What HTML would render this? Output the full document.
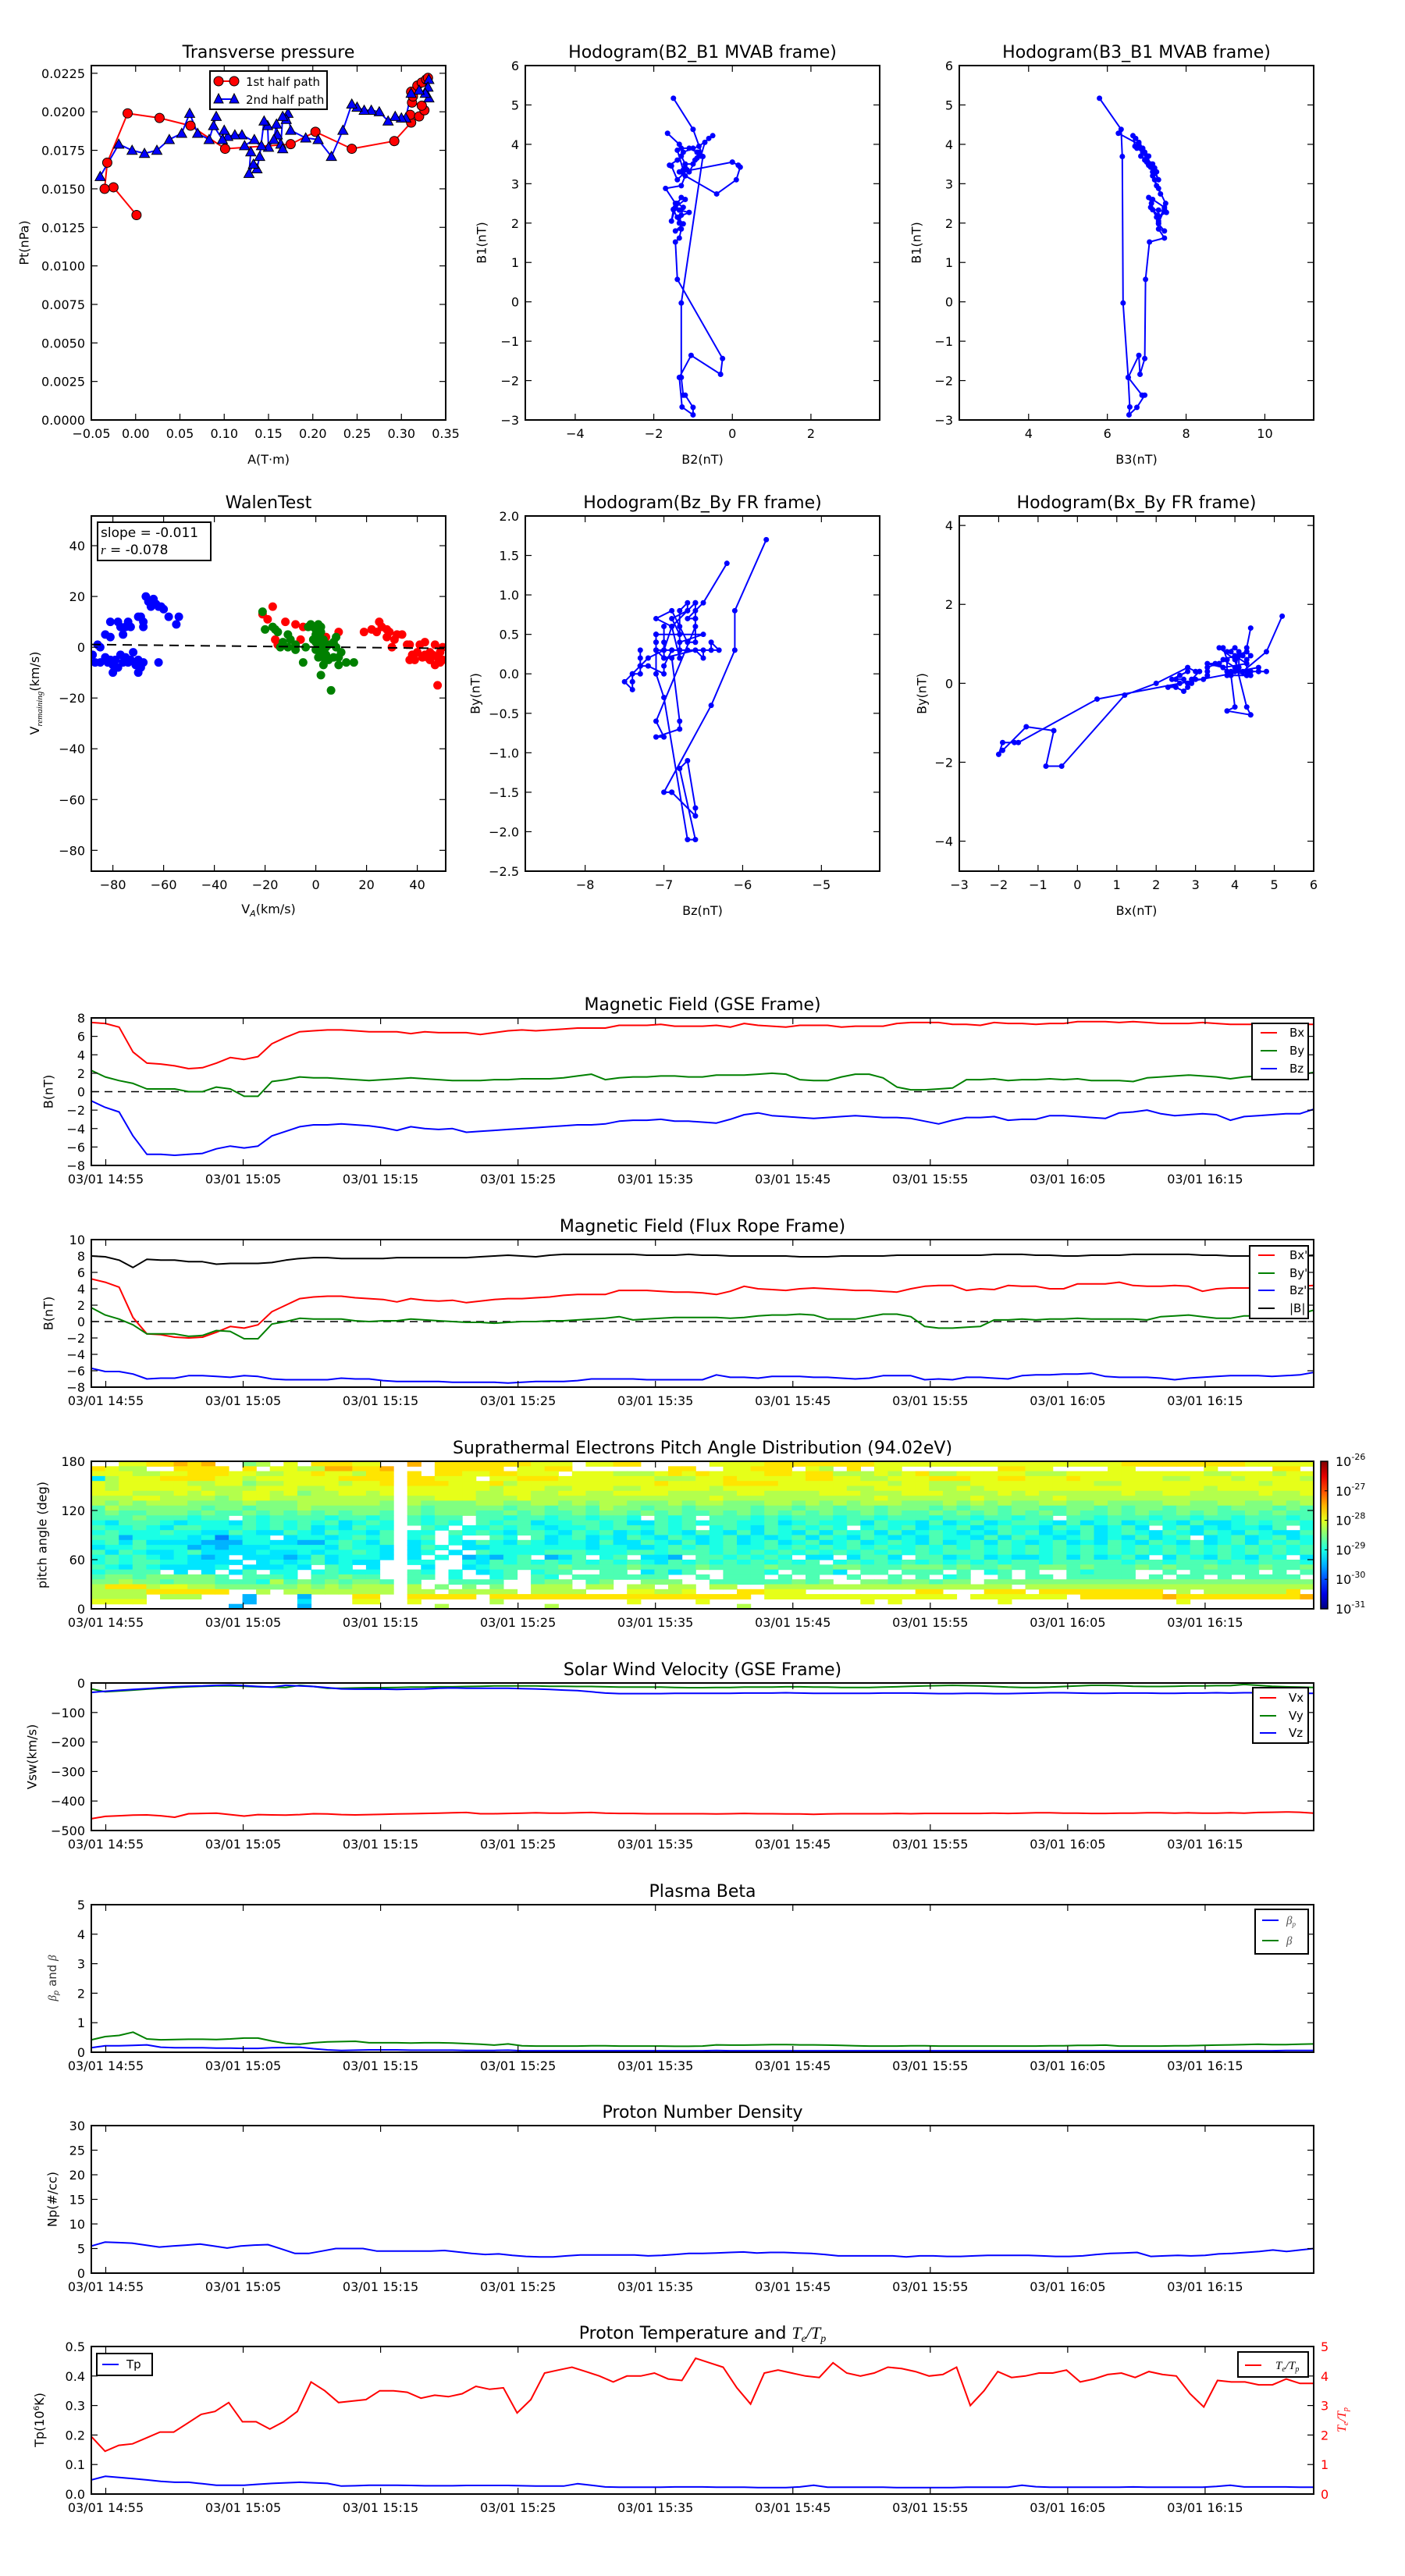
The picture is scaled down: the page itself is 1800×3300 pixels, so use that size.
<!DOCTYPE html>
<html><head><meta charset="utf-8">
<style>
html,body{margin:0;padding:0;background:#fff;}
svg{display:block;font-family:"DejaVu Sans","Liberation Sans",sans-serif;}
</style></head>
<body>
<svg id="fig" xmlns="http://www.w3.org/2000/svg" width="1800" height="3300" viewBox="0 0 1800 3300"></svg>
<script>
// ---------------- DATA ----------------
const tpRedA=[0.001,-0.025,-0.035,-0.032,-0.009,0.027,0.062,0.101,0.175,0.203,0.244,0.292,0.311,0.310,0.320,0.326,0.323,0.312,0.313,0.311,0.318,0.323,0.328,0.330];
const tpRedP=[0.0133,0.0151,0.0150,0.0167,0.0199,0.0196,0.0191,0.0176,0.0179,0.0187,0.0176,0.0181,0.0193,0.0198,0.0197,0.0201,0.0204,0.0206,0.0210,0.0213,0.0217,0.0219,0.0221,0.0222];
const tpBlueA=[0.331,0.330,0.331,0.327,0.320,0.311,0.305,0.300,0.293,0.285,0.275,0.266,0.258,0.250,0.244,0.234,0.221,0.206,0.192,0.175,0.172,0.170,0.166,0.164,0.166,0.160,0.159,0.156,0.150,0.149,0.145,0.140,0.137,0.133,0.128,0.130,0.123,0.134,0.142,0.120,0.112,0.104,0.100,0.098,0.088,0.091,0.083,0.070,0.061,0.052,0.038,0.024,0.010,-0.004,-0.019,-0.040];
const tpBlueP=[0.0221,0.0216,0.0209,0.0212,0.0214,0.0212,0.0196,0.0196,0.0197,0.0194,0.0200,0.0201,0.0201,0.0203,0.0205,0.0188,0.0171,0.0182,0.0183,0.0188,0.0199,0.0195,0.0197,0.0179,0.0176,0.0185,0.0192,0.0182,0.0177,0.0191,0.0194,0.0171,0.0163,0.0166,0.0160,0.0174,0.0178,0.0182,0.0178,0.0185,0.0185,0.0184,0.0188,0.0182,0.0191,0.0197,0.0182,0.0186,0.0199,0.0186,0.0182,0.0175,0.0173,0.0175,0.0179,0.0158];
const hB2=[-1.5,-1.0,-0.75,-1.3,-1.3,-1.25,-1.2,-1.0,-1.0,-1.28,-1.35,-1.05,-0.3,-0.25,-1.4,-1.45,-1.35,-1.3,-1.45,-1.25,-1.4,-1.1,-1.35,-1.5,-1.55,-1.45,-1.2,-1.3,-1.4,-1.25,-1.3,-1.35,-1.5,-1.45,-1.7,-1.3,-1.2,-0.4,0.1,0.2,0.15,0.0,-1.3,-1.15,-1.4,-1.55,-1.6,-1.4,-1.3,-1.2,-1.0,-0.95,-0.85,-0.9,-1.1,-1.2,-1.35,-1.25,-1.4,-1.3,-1.1,-0.9,-0.8,-0.7,-0.6,-0.5,-0.85,-1.0,-1.25,-1.35,-1.65];
const hB1=[5.17,4.38,3.69,-0.03,-1.92,-2.37,-2.37,-2.68,-2.87,-2.67,-1.92,-1.36,-1.84,-1.44,0.57,1.52,1.62,1.85,1.8,1.98,2.15,2.27,2.33,2.34,2.05,2.4,2.6,2.65,2.5,2.4,2.2,2.0,2.35,2.5,2.88,2.95,3.2,2.74,3.1,3.42,3.47,3.55,3.3,3.35,3.1,3.45,3.47,3.6,3.7,3.5,3.5,3.6,3.8,3.65,3.3,3.4,3.3,3.35,3.85,3.9,3.9,3.8,3.7,4.05,4.15,4.22,3.95,3.9,3.8,4.0,4.28];
const hB3=[5.8,6.35,6.38,6.4,6.53,6.88,6.95,6.75,6.55,6.57,6.53,6.8,6.83,6.95,6.97,7.07,7.45,7.3,7.45,7.3,7.25,7.5,7.3,7.15,7.3,7.45,7.15,7.05,7.12,7.1,7.28,7.3,7.45,7.48,7.3,7.25,7.15,7.35,7.2,7.1,7.05,7.0,7.15,7.2,7.3,7.1,7.05,6.95,6.85,7.15,7.1,7.0,6.9,7.0,7.25,7.2,7.2,7.2,6.9,6.85,6.9,6.95,7.05,6.8,6.72,6.65,6.7,6.75,6.9,6.8,6.28];
const wBlueX=[-86,-85,-88,-87,-85,-83,-82,-81,-80,-80,-79,-78,-77,-76,-75,-74,-73,-72,-71,-70,-70,-69,-68,-62,-83,-81,-81,-78,-77,-76,-75,-74,-73,-70,-69,-68,-68,-67,-66,-65,-64,-63,-62,-61,-60,-58,-55,-54];
const wBlueY=[1,0,-3,-6,-6,-4,-6,-5,-7,-10,-5,-8,-3,-6,-4,-6,-5,-2,-7,-5,-10,-8,-6,-6,5,4,10,10,8,5,8,10,8,12,12,10,8,20,18,16,19,17,16,16,15,12,9,12];
const wRedX=[-21,-19,-17,-16,-15,-12,-8,-6,-5,1,4,9,19,22,24,25,26,28,28,29,30,31,32,34,36,37,37,38,39,40,41,42,43,43,44,45,45,46,47,47,48,48,49,50,50,49];
const wRedY=[13,11,16,3,1,10,9,3,8,6,4,6,6,7,6,10,8,4,7,6,0,3,5,5,1,1,-5,-3,-5,-2,1,-4,-3,2,-4,-2,-5,-3,-7,1,-4,-15,-2,0,-5,-6];
const wGreenX=[-21,-20,-17,-16,-15,-14,-13,-11,-11,-10,-8,-8,-5,-4,-3,-2,-1,0,0,0,1,1,1,1,2,2,2,2,3,3,3,4,4,5,5,6,7,7,8,8,9,9,10,12,15,0,-1,3];
const wGreenY=[14,7,8,7,6,0,2,5,0,3,1,-1,-6,0,8,9,8,7,5,2,9,4,0,-4,8,6,-2,-11,3,-4,-7,0,-3,1,-5,-17,2,-4,4,0,-4,-7,-2,-6,-6,-1,3,1];
const walenSlope=-0.011, walenIntercept=0.1;
const timeTickLabels=['03/01 14:55','03/01 15:05','03/01 15:15','03/01 15:25','03/01 15:35','03/01 15:45','03/01 15:55','03/01 16:05','03/01 16:15'];
const timeTickMinutes=[0,10,20,30,40,50,60,70,80];
const gseBx=[7.5,7.4,7.0,4.3,3.1,3.0,2.8,2.5,2.6,3.1,3.7,3.5,3.8,5.2,5.9,6.5,6.6,6.7,6.7,6.6,6.5,6.5,6.5,6.3,6.5,6.4,6.4,6.4,6.2,6.4,6.6,6.7,6.6,6.7,6.8,6.9,6.9,6.9,7.2,7.2,7.2,7.3,7.1,7.1,7.1,7.2,7.0,7.4,7.2,7.1,7.0,7.2,7.2,7.2,7.0,7.1,7.1,7.1,7.4,7.5,7.5,7.5,7.3,7.3,7.2,7.5,7.4,7.4,7.3,7.4,7.4,7.6,7.6,7.6,7.5,7.6,7.5,7.4,7.4,7.4,7.5,7.4,7.3,7.3,7.3,7.3,7.4,7.3,7.3];
const gseBy=[2.3,1.6,1.2,0.9,0.3,0.3,0.3,0.0,0.0,0.5,0.3,-0.5,-0.5,1.1,1.3,1.6,1.5,1.5,1.4,1.3,1.2,1.3,1.4,1.5,1.4,1.3,1.2,1.2,1.2,1.3,1.3,1.4,1.4,1.4,1.5,1.7,1.9,1.3,1.5,1.6,1.6,1.7,1.7,1.6,1.6,1.8,1.8,1.8,1.9,2.0,1.9,1.3,1.2,1.2,1.6,1.9,1.9,1.5,0.5,0.2,0.2,0.3,0.4,1.3,1.3,1.4,1.2,1.3,1.3,1.4,1.3,1.4,1.2,1.2,1.2,1.1,1.5,1.6,1.7,1.8,1.7,1.6,1.4,1.6,1.7,1.7,1.8,1.8,2.1];
const gseBz=[-1.0,-1.7,-2.2,-4.8,-6.8,-6.8,-6.9,-6.8,-6.7,-6.2,-5.9,-6.1,-5.9,-4.8,-4.3,-3.8,-3.6,-3.6,-3.5,-3.6,-3.7,-3.9,-4.2,-3.8,-4.0,-4.1,-4.0,-4.4,-4.3,-4.2,-4.1,-4.0,-3.9,-3.8,-3.7,-3.6,-3.6,-3.5,-3.2,-3.1,-3.1,-3.0,-3.2,-3.2,-3.3,-3.4,-3.0,-2.5,-2.3,-2.6,-2.7,-2.8,-2.9,-2.8,-2.7,-2.6,-2.7,-2.8,-2.8,-2.9,-3.2,-3.5,-3.1,-2.8,-2.8,-2.7,-3.1,-3.0,-3.0,-2.6,-2.6,-2.7,-2.8,-2.9,-2.3,-2.2,-2.0,-2.4,-2.6,-2.5,-2.4,-2.5,-3.1,-2.7,-2.6,-2.5,-2.4,-2.4,-1.9];
const frBx=[5.2,4.8,4.2,0.5,-1.5,-1.6,-1.9,-2.0,-1.9,-1.3,-0.6,-0.8,-0.4,1.2,2.0,2.8,3.0,3.1,3.1,2.9,2.8,2.7,2.4,2.8,2.6,2.5,2.6,2.3,2.5,2.7,2.8,2.8,2.9,3.0,3.2,3.3,3.3,3.3,3.8,3.8,3.8,3.7,3.6,3.6,3.5,3.3,3.7,4.3,4.0,3.9,3.8,4.0,4.1,4.0,3.9,3.8,3.8,3.7,3.6,4.0,4.3,4.4,4.4,3.8,4.0,3.9,4.4,4.3,4.3,4.0,4.0,4.6,4.6,4.6,4.8,4.4,4.3,4.3,4.4,4.3,3.7,4.0,4.1,4.1,4.1,4.2,4.3,4.3,4.4];
const frBy=[1.7,0.8,0.3,-0.4,-1.5,-1.5,-1.5,-1.8,-1.7,-1.1,-1.2,-2.1,-2.1,-0.3,0.0,0.4,0.3,0.3,0.3,0.1,0.0,0.1,0.1,0.3,0.2,0.1,0.0,-0.1,-0.1,-0.2,-0.1,0.0,0.0,0.1,0.1,0.2,0.3,0.4,0.6,0.2,0.3,0.4,0.5,0.5,0.5,0.5,0.4,0.5,0.7,0.8,0.8,0.9,0.8,0.3,0.3,0.3,0.6,0.9,0.9,0.6,-0.6,-0.8,-0.8,-0.7,-0.6,0.2,0.2,0.3,0.2,0.3,0.3,0.4,0.3,0.3,0.3,0.3,0.2,0.6,0.7,0.8,0.6,0.4,0.4,0.7,0.7,0.7,0.8,0.9,1.4];
const frBz=[-5.7,-6.1,-6.1,-6.4,-7.0,-6.9,-6.9,-6.6,-6.6,-6.7,-6.8,-6.6,-6.7,-7.0,-7.1,-7.1,-7.1,-7.1,-6.9,-7.0,-7.0,-7.2,-7.3,-7.3,-7.3,-7.3,-7.4,-7.4,-7.4,-7.4,-7.5,-7.4,-7.3,-7.3,-7.3,-7.2,-7.0,-7.0,-7.0,-7.0,-7.1,-7.1,-7.1,-7.1,-7.1,-6.5,-6.8,-6.8,-6.9,-6.7,-6.7,-6.7,-6.8,-6.8,-6.9,-7.0,-6.9,-6.6,-6.6,-6.6,-7.1,-7.0,-7.1,-6.8,-6.8,-6.9,-7.0,-6.6,-6.5,-6.5,-6.4,-6.4,-6.3,-6.7,-6.8,-6.8,-6.8,-6.9,-7.1,-6.9,-6.8,-6.7,-6.6,-6.6,-6.6,-6.7,-6.6,-6.5,-6.2];
const frBt=[8.0,7.9,7.5,6.6,7.6,7.5,7.5,7.3,7.3,7.0,7.1,7.1,7.1,7.2,7.5,7.7,7.8,7.8,7.7,7.7,7.7,7.7,7.8,7.8,7.8,7.8,7.8,7.8,7.9,8.0,8.1,8.0,7.9,8.1,8.2,8.2,8.2,8.2,8.2,8.2,8.1,8.1,8.1,8.2,8.1,8.1,8.0,8.0,8.0,8.0,8.0,7.9,7.9,7.9,8.0,8.0,8.0,8.0,8.1,8.1,8.1,8.1,8.1,8.1,8.1,8.2,8.2,8.2,8.1,8.1,8.0,8.0,8.1,8.1,8.1,8.2,8.2,8.2,8.2,8.2,8.1,8.1,8.0,8.0,8.0,8.0,8.0,8.0,8.1];
const vx=[-460,-452,-450,-448,-447,-450,-455,-443,-442,-441,-446,-451,-446,-447,-448,-446,-443,-444,-446,-447,-446,-445,-444,-443,-442,-441,-440,-439,-443,-443,-442,-441,-440,-441,-441,-440,-439,-441,-442,-442,-443,-443,-443,-443,-443,-444,-443,-442,-443,-443,-444,-444,-445,-444,-443,-443,-443,-443,-442,-443,-442,-442,-442,-442,-442,-441,-442,-441,-440,-440,-441,-441,-442,-442,-441,-441,-440,-440,-441,-440,-441,-441,-440,-441,-439,-438,-437,-438,-441];
const vy=[-20,-30,-27,-24,-21,-18,-15,-13,-11,-10,-10,-11,-13,-14,-15,-8,-12,-18,-18,-17,-16,-16,-15,-14,-14,-13,-13,-12,-11,-10,-10,-10,-10,-11,-11,-12,-12,-13,-14,-14,-14,-14,-15,-16,-16,-15,-15,-14,-14,-14,-13,-13,-14,-14,-15,-15,-15,-14,-13,-11,-10,-9,-8,-9,-10,-12,-14,-15,-15,-14,-12,-10,-8,-8,-9,-11,-12,-12,-11,-10,-10,-9,-9,-5,-8,-11,-13,-14,-15];
const vz=[-32,-28,-25,-22,-19,-16,-13,-11,-10,-8,-7,-9,-12,-14,-8,-10,-12,-16,-20,-21,-21,-21,-22,-21,-20,-18,-17,-18,-18,-18,-18,-19,-20,-22,-24,-26,-30,-34,-36,-36,-36,-36,-35,-35,-35,-35,-35,-34,-34,-34,-33,-34,-35,-35,-35,-35,-35,-34,-34,-34,-35,-36,-36,-35,-35,-36,-36,-35,-34,-33,-33,-34,-35,-35,-34,-34,-34,-35,-35,-34,-34,-33,-34,-33,-33,-34,-35,-35,-35];
const betaP=[0.15,0.22,0.22,0.23,0.25,0.17,0.15,0.15,0.15,0.14,0.14,0.13,0.13,0.15,0.16,0.17,0.12,0.08,0.06,0.07,0.08,0.08,0.08,0.07,0.07,0.07,0.07,0.06,0.06,0.06,0.07,0.05,0.05,0.05,0.05,0.05,0.05,0.05,0.05,0.05,0.05,0.05,0.05,0.05,0.05,0.06,0.05,0.05,0.05,0.05,0.05,0.05,0.05,0.05,0.05,0.05,0.05,0.05,0.05,0.05,0.05,0.05,0.05,0.05,0.05,0.05,0.05,0.05,0.05,0.05,0.05,0.05,0.05,0.05,0.05,0.05,0.05,0.05,0.05,0.05,0.05,0.05,0.05,0.05,0.05,0.05,0.06,0.06,0.06];
const betaT=[0.42,0.53,0.57,0.68,0.45,0.42,0.43,0.44,0.44,0.43,0.45,0.48,0.48,0.38,0.30,0.27,0.32,0.35,0.36,0.37,0.32,0.32,0.32,0.31,0.32,0.32,0.31,0.29,0.27,0.24,0.28,0.22,0.21,0.21,0.21,0.21,0.22,0.22,0.21,0.21,0.21,0.21,0.20,0.20,0.21,0.25,0.24,0.24,0.25,0.26,0.26,0.25,0.25,0.24,0.23,0.22,0.21,0.21,0.21,0.22,0.22,0.21,0.21,0.21,0.21,0.21,0.21,0.21,0.21,0.22,0.22,0.23,0.23,0.24,0.21,0.21,0.21,0.21,0.22,0.22,0.23,0.24,0.25,0.26,0.27,0.26,0.26,0.27,0.28];
const npDens=[5.5,6.3,6.2,6.1,5.7,5.3,5.5,5.7,5.9,5.5,5.1,5.5,5.7,5.8,4.9,4.0,4.0,4.5,5.0,5.0,5.0,4.5,4.5,4.5,4.5,4.5,4.6,4.3,4.0,3.8,3.9,3.6,3.4,3.3,3.3,3.5,3.7,3.7,3.7,3.7,3.7,3.5,3.6,3.8,4.0,4.0,4.1,4.2,4.3,4.1,4.2,4.2,4.1,4.0,3.8,3.5,3.5,3.5,3.5,3.5,3.3,3.5,3.5,3.4,3.4,3.5,3.6,3.6,3.6,3.6,3.5,3.4,3.4,3.5,3.8,4.0,4.1,4.2,3.4,3.5,3.6,3.5,3.6,3.9,4.0,4.2,4.4,4.7,4.4,4.7,5.0];
const tempP=[0.048,0.060,0.056,0.052,0.048,0.043,0.040,0.040,0.035,0.030,0.030,0.030,0.033,0.036,0.038,0.040,0.038,0.036,0.027,0.028,0.030,0.030,0.030,0.029,0.028,0.028,0.028,0.029,0.029,0.029,0.029,0.028,0.027,0.027,0.027,0.035,0.030,0.024,0.023,0.023,0.023,0.023,0.024,0.024,0.024,0.023,0.023,0.023,0.022,0.022,0.022,0.024,0.030,0.023,0.023,0.023,0.023,0.023,0.022,0.022,0.022,0.022,0.022,0.023,0.023,0.023,0.023,0.030,0.025,0.023,0.023,0.023,0.023,0.023,0.023,0.024,0.023,0.023,0.023,0.023,0.023,0.026,0.030,0.024,0.024,0.024,0.024,0.023,0.023];
const teTp=[1.95,1.45,1.65,1.7,1.9,2.1,2.1,2.4,2.7,2.8,3.1,2.45,2.45,2.2,2.45,2.8,3.8,3.5,3.1,3.15,3.2,3.5,3.5,3.45,3.25,3.35,3.3,3.4,3.65,3.55,3.6,2.75,3.2,4.1,4.2,4.3,4.15,4.0,3.8,4.0,4.0,4.1,3.9,3.85,4.6,4.45,4.3,3.6,3.05,4.1,4.2,4.1,4.0,3.95,4.45,4.1,4.0,4.1,4.3,4.25,4.15,4.0,4.05,4.3,3.0,3.5,4.15,3.95,4.0,4.1,4.1,4.2,3.8,3.9,4.05,4.1,3.95,4.15,4.05,4.0,3.4,2.95,3.85,3.8,3.8,3.7,3.7,3.9,3.75,3.75];
const padRows=[
"..8899a9a..67.8.99988. . a.99999998 88.8899... ..88889999 9999888888 8888888888 8899999999 988888",
"9877..9999.9.8877aa99a . ..99999.88 99.......9 9..88999.87 .9.88..... ..9988.... 88.....8.. ..99.88",
"8887788999887788988799 . 9.99889988 8.88877789 8988889989 9777878977 8888877788 8888888877 8887",
"3788899998878888889999 . 99888.8899 9888888877 7889888889 9887788899 9889988898 8888877888 7888",
"8788888778867788887889 . 9998889788 8888888898 8889999888 8888878877 7888888888 7788888888 8878",
"8788888877778887788888 . 8888887888 7788877888 8878888888 8877888877 8788888888 8888888878 8888",
"8887778787788786778878 . 8888877887 7887788887 7777887777 8887778887 7778787777 7787788777 7787",
"7778877776788777777777 . 7788877787 7777777777 7787777777 7777877777 7877777877 7777777777 7777",
"7676777666676667777776 . 7666677667 7676776667 6776667767 6767776667 6767667766 7666677667 7667",
"5766666656656667666666 . 6566666566 5665766566 5666656656 6566566656 5665665566 5656656665 6665",
"5655666565565656565665 . 6566655656 5565665656 5565656565 6556565565 6565656565 5656556565 5656",
"5556555455.54555545545 . 5455.55455 4554554.54 5.55545455 5455455545 5455455.55 4555455455 4555",
"4355543444354545453454 . 5454.54553 4455453354 5455445345 4453544353 4534554353 4534543533 4545",
"5445435544454545343544 . .54.445454 3445455454 5.45435454 54.4545344 5345443545 3453.45343 4435",
"4544454433543354354435 . 44.5454355 4354534354 3543535435 3545353454 3435453435 3454354354 3543",
"5524444341344.34434545 . 45.4..54.5 3453435435 4345343453 5435434354 4353544345 3435345.34 5345",
"4535333322244332245435 . 34.4354354 3443533543 5345345345 3453454353 4535434534 3543543534 5354",
"3445444232333444435443 . 354.334444 4443443345 4545445454 5454544545 4545454545 4545454545 4545",
"5354334533334334344543 . 34.3.54444 5554445545 5545454545 4545454545 5545454545 4545454545 4545",
"4545434323.33323534443 . 3.4.23245. 235.45.332 .5545454.3 3.3553.553 4534334535 3453.35435 4354",
"45455443333.343453433. . 44..435454 5454545435 4545454545 .454545454 5454554555 5545545554 5455",
"5435433334.33343.54.3. . .3..345555 5655556555 5655556555 5665556665 6556556656 5556565565 5565",
"45555.3.3.35.44.45444. . 54.4.345.4 55..55.353 5..5554.55 53.55.555. 5.45.5..54 555..5.555 55.5",
"5665666665.5554.55655. . 55.4..45.5 4.5555555. .5.555.5.5 ..5..5.5.4 5..5.55.55 555.5.55.5 .555",
"6676656665554756565665 . 5..5555..5 66.56..666 ..55555565 6..6656656 6.66666666 6666666666 6666",
"7999788776666667676777 . 7.6.6.6..7 77.77.77.7 7.77..7777 7777777777 7777.77777 7777777777 7777",
"7777999999..7.77777777 . 77.77777.7 777...8877 8...99888. .......99. ..999.9999 99999.7.77 7777",
"7777.777...2...2...99. . 99999.9999 9999999999 99999.8888 8888888888 .8888888.9 99999a9999 9999",
"8888.......2...3...88. . 8.....7... ......8... .8........ ...8.8.... ...8...... ......8... ....",
"..........2....2...... . ..7....... 7......... ....7..... .......... .......... .......... ...."
];
const cbarTickExps=[-26,-27,-28,-29,-30,-31];

// ---------------- HELPERS ----------------
const NS='http://www.w3.org/2000/svg';
const svg=document.getElementById('fig');
function el(tag,attrs,parent,name,inter){
  const e=document.createElementNS(NS,tag);
  for(const k in attrs) e.setAttribute(k,attrs[k]);
  
  
  (parent||svg).appendChild(e);
  return e;
}
function txt(s,x,y,opts,parent,name){
  const t=el('text',Object.assign({x:x,y:y,'font-size':16,fill:'#000'},opts||{}),parent,name);
  t.textContent=s;return t;
}
let clipId=0;
function axes(o){
  const g=el('g',{},svg,o.name);
  const X=v=>o.x0+(v-o.xmin)/(o.xmax-o.xmin)*(o.x1-o.x0);
  const Y=v=>o.y1-(v-o.ymin)/(o.ymax-o.ymin)*(o.y1-o.y0);
  const cid='clip'+(clipId++);
  const cp=el('clipPath',{id:cid},g,'clip-region');
  el('rect',{x:o.x0,y:o.y0,width:o.x1-o.x0,height:o.y1-o.y0},cp,'clip-rect');
  const plot=el('g',{'clip-path':'url(#'+cid+')'},g,'plot-area');
  const ticks=el('g',{stroke:'#000','stroke-width':1.2},g,'ticks');
  (o.xt||[]).forEach((v,i)=>{const x=X(v);
    el('line',{x1:x,x2:x,y1:o.y1,y2:o.y1-8},ticks,'x-tick');
    el('line',{x1:x,x2:x,y1:o.y0,y2:o.y0+8},ticks,'x-tick-top');
    txt(o.xl[i],x,o.y1+23,{'text-anchor':'middle'},g,'x-tick-label');});
  (o.yt||[]).forEach((v,i)=>{const y=Y(v);
    el('line',{x1:o.x0,x2:o.x0+8,y1:y,y2:y},ticks,'y-tick');
    if(!o.noRightTicks) el('line',{x1:o.x1,x2:o.x1-8,y1:y,y2:y},ticks,'y-tick-right');
    txt(o.yl[i],o.x0-8,y+6,{'text-anchor':'end'},g,'y-tick-label');});
  el('rect',{x:o.x0,y:o.y0,width:o.x1-o.x0,height:o.y1-o.y0,fill:'none',stroke:'#000','stroke-width':2},g,'axes-frame');
  if(o.title) txt(o.title,(o.x0+o.x1)/2,o.y0-10,{'text-anchor':'middle','font-size':22},g,'chart-title');
  if(o.xlabel) txt(o.xlabel,(o.x0+o.x1)/2,o.y1+56,{'text-anchor':'middle'},g,'x-axis-title');
  if(o.ylabel){const cx=o.ylx,cy=(o.y0+o.y1)/2;
    txt(o.ylabel,cx,cy,{'text-anchor':'middle',transform:'rotate(-90 '+cx+' '+cy+')','dominant-baseline':'middle'},g,'y-axis-title');}
  return {g,plot,X,Y};
}
function line(ax,xs,ys,color,name,w){
  const n=Math.min(xs.length,ys.length);let d='';
  for(let i=0;i<n;i++) d+=(i?'L':'M')+ax.X(xs[i]).toFixed(1)+' '+ax.Y(ys[i]).toFixed(1);
  return el('path',{d:d,fill:'none',stroke:color,'stroke-width':w||2,'stroke-linejoin':'round'},ax.plot,name);
}
function dots(ax,xs,ys,color,r,name,stroke){
  const n=Math.min(xs.length,ys.length);
  for(let i=0;i<n;i++) el('circle',{cx:ax.X(xs[i]),cy:ax.Y(ys[i]),r:r,fill:color,stroke:stroke||'none','stroke-width':1},ax.plot,name);
}
function tris(ax,xs,ys,color,s,name){
  const n=Math.min(xs.length,ys.length);
  for(let i=0;i<n;i++){const x=ax.X(xs[i]),y=ax.Y(ys[i]);
    el('polygon',{points:`${x},${y-s} ${x-s},${y+s*0.8} ${x+s},${y+s*0.8}`,fill:color,stroke:'#000','stroke-width':1},ax.plot,name);}
}
function rng(a,b,s){const r=[];for(let v=a;v<=b+1e-9;v+=s)r.push(+v.toFixed(6));return r;}
const minus=s=>String(s).replace('-','\u2212');

// ---------------- TOP ROW ----------------
(function(){
  const yt=rng(0,0.0225,0.0025);
  const ax=axes({name:'transverse-pressure-chart',x0:117,x1:571,y0:84,y1:538,xmin:-0.05,xmax:0.35,ymin:0,ymax:0.0230,
    xt:rng(-0.05,0.35,0.05),xl:rng(-0.05,0.35,0.05).map(v=>minus(v.toFixed(2))),yt:yt,yl:yt.map(v=>v.toFixed(4)),
    title:'Transverse pressure',xlabel:'A(T\u00b7m)',ylabel:'Pt(nPa)',ylx:32});
  line(ax,tpRedA,tpRedP,'#ff0000','first-half-path-line',2);
  line(ax,tpBlueA,tpBlueP,'#0000ff','second-half-path-line',2);
  dots(ax,tpRedA,tpRedP,'#ff0000',6,'first-half-point','#000');
  tris(ax,tpBlueA,tpBlueP,'#0000ff',6.5,'second-half-point');
  const lg=el('g',{},ax.g,'legend');
  el('rect',{x:269,y:91,width:150,height:49,fill:'#fff',stroke:'#000','stroke-width':2},lg,'legend-frame');
  el('line',{x1:280,x2:300,y1:104,y2:104,stroke:'#ff0000','stroke-width':2},lg,'legend-line-1st');
  el('circle',{cx:280,cy:104,r:6,fill:'#f00',stroke:'#000'},lg,'legend-marker-1st');
  el('circle',{cx:300,cy:104,r:6,fill:'#f00',stroke:'#000'},lg,'legend-marker-1st');
  txt('1st half path',315,110,{'font-size':15},lg,'legend-entry-1st');
  el('line',{x1:280,x2:300,y1:127,y2:127,stroke:'#00f','stroke-width':2},lg,'legend-line-2nd');
  [280,300].forEach(x=>el('polygon',{points:`${x},${120} ${x-6},${132} ${x+6},${132}`,fill:'#00f',stroke:'#000'},lg,'legend-marker-2nd'));
  txt('2nd half path',315,133,{'font-size':15},lg,'legend-entry-2nd');
})();
(function(){
  const ax=axes({name:'hodogram-b2-b1-chart',x0:673,x1:1127,y0:84,y1:538,xmin:-5.27,xmax:3.75,ymin:-3,ymax:6,
    xt:[-4,-2,0,2],xl:['\u22124','\u22122','0','2'],yt:rng(-3,6,1),yl:rng(-3,6,1).map(minus),
    title:'Hodogram(B2_B1 MVAB frame)',xlabel:'B2(nT)',ylabel:'B1(nT)',ylx:618});
  line(ax,hB2,hB1,'#0000ff','hodogram-b2-b1-line',2);
  dots(ax,hB2,hB1,'#0000ff',3.5,'hodogram-b2-b1-point');
})();
(function(){
  const ax=axes({name:'hodogram-b3-b1-chart',x0:1229,x1:1683,y0:84,y1:538,xmin:2.24,xmax:11.24,ymin:-3,ymax:6,
    xt:[4,6,8,10],xl:['4','6','8','10'],yt:rng(-3,6,1),yl:rng(-3,6,1).map(minus),
    title:'Hodogram(B3_B1 MVAB frame)',xlabel:'B3(nT)',ylabel:'B1(nT)',ylx:1175});
  line(ax,hB3,hB1,'#0000ff','hodogram-b3-b1-line',2);
  dots(ax,hB3,hB1,'#0000ff',3.5,'hodogram-b3-b1-point');
})();
// ---------------- SECOND ROW ----------------
(function(){
  const ax=axes({name:'walen-test-chart',x0:117,x1:571,y0:661,y1:1116,xmin:-88.5,xmax:51.2,ymin:-88.2,ymax:51.7,
    xt:[-80,-60,-40,-20,0,20,40],xl:['\u221280','\u221260','\u221240','\u221220','0','20','40'],
    yt:[-80,-60,-40,-20,0,20,40],yl:['\u221280','\u221260','\u221240','\u221220','0','20','40'],
    title:'WalenTest',ylx:50});
  dots(ax,wBlueX,wBlueY,'#0000ff',5.5,'walen-point-blue');
  dots(ax,wRedX,wRedY,'#ff0000',5.5,'walen-point-red');
  dots(ax,wGreenX,wGreenY,'#008000',5.5,'walen-point-green');
  const xa=-88.5,xb=51.2;
  el('line',{x1:ax.X(xa),y1:ax.Y(walenIntercept+walenSlope*xa),x2:ax.X(xb),y2:ax.Y(walenIntercept+walenSlope*xb),stroke:'#000','stroke-width':2,'stroke-dasharray':'12,8'},ax.plot,'walen-fit-line');
  const t=txt('',344,1170,{'text-anchor':'middle'},ax.g,'x-axis-title');
  t.innerHTML='V<tspan font-size="11" dy="4" font-style="italic">A</tspan><tspan dy="-4">(km/s)</tspan>';
  const yl=txt('',50,888,{'text-anchor':'middle',transform:'rotate(-90 50 888)'},ax.g,'y-axis-title');
  yl.innerHTML='V<tspan font-size="11" dy="4" font-style="italic" font-family="Liberation Serif,serif">remaining</tspan><tspan dy="-4">(km/s)</tspan>';
  const bx=el('g',{},ax.g,'stats-box');
  el('rect',{x:125,y:669,width:145,height:49,fill:'#fff',stroke:'#000','stroke-width':2},bx,'stats-frame');
  txt('slope = -0.011',129,688,{'font-size':17},bx,'slope-text');
  const r=txt('',129,710,{'font-size':17},bx,'r-text');
  r.innerHTML='<tspan font-style="italic" font-family="Liberation Serif,serif">r</tspan> = -0.078';
})();
(function(){
  const yt=rng(-2.5,2.0,0.5);
  const ax=axes({name:'hodogram-bz-by-chart',x0:673,x1:1127,y0:661,y1:1116,xmin:-8.76,xmax:-4.26,ymin:-2.5,ymax:2.0,
    xt:[-8,-7,-6,-5],xl:['\u22128','\u22127','\u22126','\u22125'],yt:yt,yl:yt.map(v=>minus(v.toFixed(1))),
    title:'Hodogram(Bz_By FR frame)',xlabel:'Bz(nT)',ylabel:'By(nT)',ylx:610});
  line(ax,frBz,frBy,'#0000ff','hodogram-bz-by-line',2);
  dots(ax,frBz,frBy,'#0000ff',3.5,'hodogram-bz-by-point');
})();
(function(){
  const ax=axes({name:'hodogram-bx-by-chart',x0:1229,x1:1683,y0:661,y1:1116,xmin:-3,xmax:6,ymin:-4.76,ymax:4.24,
    xt:rng(-3,6,1),xl:rng(-3,6,1).map(minus),yt:[-4,-2,0,2,4],yl:['\u22124','\u22122','0','2','4'],
    title:'Hodogram(Bx_By FR frame)',xlabel:'Bx(nT)',ylabel:'By(nT)',ylx:1182});
  line(ax,frBx,frBy,'#0000ff','hodogram-bx-by-line',2);
  dots(ax,frBx,frBy,'#0000ff',3.5,'hodogram-bx-by-point');
})();
// ---------------- TIME SERIES ----------------
const T0=-1.05,T1=87.9;
function tsTimes(n){const a=[];for(let i=0;i<n;i++)a.push(T0+i*(T1-T0)/(n-1));return a;}
function tsAxes(name,top,ymin,ymax,yt,yl,title,ylabel,ylx,extra){
  return axes(Object.assign({name:name,x0:117,x1:1683,y0:top,y1:top+189,xmin:T0,xmax:T1,ymin:ymin,ymax:ymax,
    xt:timeTickMinutes,xl:timeTickLabels,yt:yt,yl:yl,title:title,ylabel:ylabel,ylx:ylx},extra||{}));
}
function legend(ax,x,y,w,h,entries,lx,tx){
  const lg=el('g',{},ax.g,'legend');
  el('rect',{x:x,y:y,width:w,height:h,fill:'#fff',stroke:'#000','stroke-width':2},lg,'legend-frame');
  entries.forEach(en=>{
    el('line',{x1:lx,x2:lx+21,y1:en.y,y2:en.y,stroke:en.c,'stroke-width':2},lg,'legend-swatch');
    const t=txt('',tx,en.y+5,{'font-size':15},lg,'legend-entry');t.innerHTML=en.l;});
}
(function(){
  const v=[-8,-6,-4,-2,0,2,4,6,8];
  const ax=tsAxes('magnetic-field-gse-chart',1304,-8,8,v,v.map(minus),'Magnetic Field (GSE Frame)','B(nT)',63);
  el('line',{x1:117,x2:1683,y1:ax.Y(0),y2:ax.Y(0),stroke:'#000','stroke-width':1.5,'stroke-dasharray':'10,7'},ax.plot,'zero-line');
  line(ax,tsTimes(gseBx.length),gseBx,'#ff0000','series-bx');
  line(ax,tsTimes(gseBy.length),gseBy,'#008000','series-by');
  line(ax,tsTimes(gseBz.length),gseBz,'#0000ff','series-bz');
  legend(ax,1604,1311,72,72,[{y:1323,c:'#f00',l:'Bx'},{y:1346,c:'#008000',l:'By'},{y:1369,c:'#00f',l:'Bz'}],1615,1652);
})();
(function(){
  const v=[-8,-6,-4,-2,0,2,4,6,8,10];
  const ax=tsAxes('magnetic-field-flux-rope-chart',1588,-8,10,v,v.map(minus),'Magnetic Field (Flux Rope Frame)','B(nT)',63);
  el('line',{x1:117,x2:1683,y1:ax.Y(0),y2:ax.Y(0),stroke:'#000','stroke-width':1.5,'stroke-dasharray':'10,7'},ax.plot,'zero-line');
  line(ax,tsTimes(frBt.length),frBt,'#000000','series-btotal');
  line(ax,tsTimes(frBx.length),frBx,'#ff0000','series-bx-prime');
  line(ax,tsTimes(frBy.length),frBy,'#008000','series-by-prime');
  line(ax,tsTimes(frBz.length),frBz,'#0000ff','series-bz-prime');
  legend(ax,1601,1596,75,93,[{y:1608,c:'#f00',l:"Bx'"},{y:1631,c:'#008000',l:"By'"},{y:1653,c:'#00f',l:"Bz'"},{y:1676,c:'#000',l:'|B|'}],1612,1652);
})();
function jet(f){const c=x=>Math.round(255*Math.max(0,Math.min(1,x)));
  return `rgb(${c(1.5-Math.abs(4*f-3))},${c(1.5-Math.abs(4*f-2))},${c(1.5-Math.abs(4*f-1))})`;}
(function(){
  const ax=tsAxes('pitch-angle-distribution-chart',1872,0,180,[0,60,120,180],['0','60','120','180'],
    'Suprathermal Electrons Pitch Angle Distribution (94.02eV)','pitch angle (deg)',55);
  const rows=padRows.map(r=>r.replace(/ /g,''));
  const nCol=89,nRow=rows.length,dt=(T1-T0)/nCol,da=180/nRow;
  const hm=el('g',{},ax.plot,'heatmap');
  ax.plot.insertBefore(hm,ax.plot.firstChild);
  rows.forEach((r,ri)=>{
    for(let ci=0;ci<nCol;ci++){
      let k=ci;while(k>=r.length)k-=10;
      const ch=r[k];if(ch==='.')continue;
      const lv=ch==='a'?10:parseInt(ch,10);
      const a1=180-ri*da,a0=a1-da,t0=T0+ci*dt;
      el('rect',{x:ax.X(t0).toFixed(1),y:ax.Y(a1).toFixed(1),width:(ax.X(t0+dt)-ax.X(t0)+0.6).toFixed(1),height:(ax.Y(a0)-ax.Y(a1)+0.6).toFixed(1),fill:jet(0.2+lv*0.05)},hm,'heatmap-cell');
    }
  });
  const cb=el('g',{},svg,'colorbar');
  const gr=el('linearGradient',{id:'jetgrad',x1:0,y1:1,x2:0,y2:0},cb,'colorbar-gradient');
  for(let i=0;i<=10;i++) el('stop',{offset:i/10,'stop-color':jet(i/10)},gr,'gradient-stop');
  const cy0=1872,cy1=2061,cx0=1692,cx1=1701;
  el('rect',{x:cx0,y:cy0,width:cx1-cx0,height:cy1-cy0,fill:'url(#jetgrad)',stroke:'#000','stroke-width':1.5},cb,'colorbar-bar');
  cbarTickExps.forEach(e=>{const y=cy1-(e+31)/5*(cy1-cy0);
    el('line',{x1:cx1-4,x2:cx1,y1:y,y2:y,stroke:'#000'},cb,'colorbar-tick');
    const t=txt('',1711,y+6,{'font-size':16},cb,'colorbar-label');
    t.innerHTML='10<tspan font-size="11" dy="-8">'+e+'</tspan>';});
})();
(function(){
  const v=[-500,-400,-300,-200,-100,0];
  const ax=tsAxes('solar-wind-velocity-chart',2156,-500,0,v,v.map(minus),'Solar Wind Velocity (GSE Frame)','Vsw(km/s)',42);
  line(ax,tsTimes(vx.length),vx,'#ff0000','series-vx');
  line(ax,tsTimes(vy.length),vy,'#008000','series-vy');
  line(ax,tsTimes(vz.length),vz,'#0000ff','series-vz');
  legend(ax,1605,2162,71,71,[{y:2175,c:'#f00',l:'Vx'},{y:2198,c:'#008000',l:'Vy'},{y:2220,c:'#00f',l:'Vz'}],1614,1651);
})();
(function(){
  const v=[0,1,2,3,4,5];
  const ax=tsAxes('plasma-beta-chart',2440,0,5,v,v.map(String),'Plasma Beta','',0);
  const yl=txt('',72,2534,{'text-anchor':'middle',transform:'rotate(-90 72 2534)','font-size':15,fill:'#333'},ax.g,'y-axis-title');
  yl.innerHTML='<tspan font-style="italic" font-family="Liberation Serif,serif">β</tspan><tspan font-size="10" dy="3" font-style="italic">p</tspan><tspan dy="-3"> and </tspan><tspan font-style="italic" font-family="Liberation Serif,serif">β</tspan>';
  line(ax,tsTimes(betaT.length),betaT,'#008000','series-beta');
  line(ax,tsTimes(betaP.length),betaP,'#0000ff','series-beta-p');
  legend(ax,1608,2446,68,57,[{y:2460,c:'#00f',l:'<tspan font-style="italic" font-family="Liberation Serif,serif" fill="#555">β<tspan font-size="9" dy="3">p</tspan></tspan>'},{y:2486,c:'#008000',l:'<tspan font-style="italic" font-family="Liberation Serif,serif" fill="#555">β</tspan>'}],1617,1648);
})();
(function(){
  const v=[0,5,10,15,20,25,30];
  const ax=tsAxes('proton-density-chart',2723,0,30,v,v.map(String),'Proton Number Density','Np(#/cc)',68);
  line(ax,tsTimes(npDens.length),npDens,'#0000ff','series-np');
})();
(function(){
  const v=[0,0.1,0.2,0.3,0.4,0.5];
  const ax=tsAxes('proton-temperature-chart',3006,0,0.5,v,v.map(x=>x.toFixed(1)),'','',0,{noRightTicks:true});
  const tt=txt('',900,2996,{'text-anchor':'middle','font-size':22},ax.g,'chart-title');
  tt.innerHTML='Proton Temperature and <tspan font-style="italic" font-family="Liberation Serif,serif">T<tspan font-size="14" dy="4">e</tspan><tspan dy="-4">/T</tspan><tspan font-size="14" dy="4">p</tspan></tspan>';
  const yl=txt('',56,3100,{'text-anchor':'middle',transform:'rotate(-90 56 3100)'},ax.g,'y-axis-title');
  yl.innerHTML='Tp(10<tspan font-size="10" dy="-6">6</tspan><tspan dy="6">K)</tspan>';
  line(ax,tsTimes(tempP.length),tempP,'#0000ff','series-tp');
  const Y2=v=>3195-v/5*189;
  let d='';const tt2=tsTimes(teTp.length);
  teTp.forEach((val,i)=>{d+=(i?'L':'M')+ax.X(tt2[i]).toFixed(1)+' '+Y2(val).toFixed(1);});
  el('path',{d:d,fill:'none',stroke:'#ff0000','stroke-width':2},ax.plot,'series-te-tp');
  [0,1,2,3,4,5].forEach(v=>{const y=Y2(v);
    el('line',{x1:1683,x2:1675,y1:y,y2:y,stroke:'#000','stroke-width':1.2},ax.g,'right-y-tick');
    txt(String(v),1692,y+6,{fill:'#ff0000'},ax.g,'right-y-tick-label');});
  const rl=txt('',1724,3100,{'text-anchor':'middle',transform:'rotate(-90 1724 3100)',fill:'#ff0000','font-family':'Liberation Serif,serif','font-style':'italic'},ax.g,'right-y-axis-title');
  rl.innerHTML='T<tspan font-size="10" dy="3">e</tspan><tspan dy="-3">/T</tspan><tspan font-size="10" dy="3">p</tspan>';
  legend(ax,124,3015,71,28,[{y:3029,c:'#00f',l:'Tp'}],131,162);
  legend(ax,1586,3013,90,32,[{y:3030,c:'#f00',l:'<tspan font-style="italic" font-family="Liberation Serif,serif">T<tspan font-size="10" dy="3">e</tspan><tspan dy="-3">/T</tspan><tspan font-size="10" dy="3">p</tspan></tspan>'}],1595,1634);
})();
</script>
</body></html>
